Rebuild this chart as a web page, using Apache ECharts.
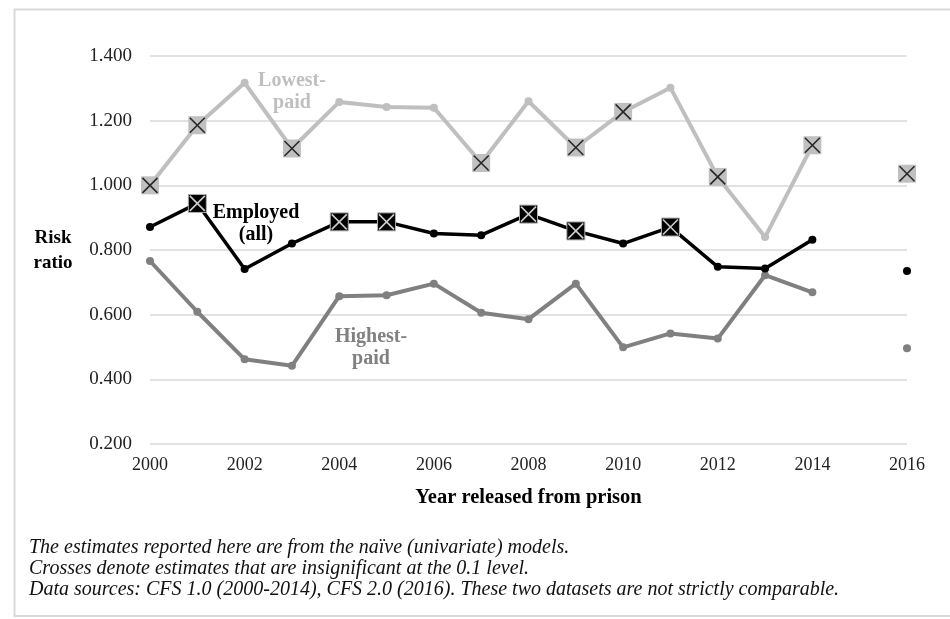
<!DOCTYPE html>
<html>
<head>
<meta charset="utf-8">
<script src="https://cdn.jsdelivr.net/npm/echarts@6/dist/echarts.min.js"></script>
<style>
  html, body { margin: 0; padding: 0; background: #fff; }
  #chart { width: 950px; height: 619px; }
</style>
</head>
<body>
<div id="chart"></div>
<script>
// release years (2015 missing: two different datasets)
const years = [2000, 2001, 2002, 2003, 2004, 2005, 2006, 2007, 2008, 2009, 2010, 2011, 2012, 2013, 2014, 2016];
const lowestPaid = [1.000, 1.186, 1.317, 1.114, 1.258, 1.242, 1.240, 1.069, 1.260, 1.117, 1.227, 1.302, 1.026, 0.840, 1.124, 1.036];
const employedAll = [0.871, 0.944, 0.741, 0.820, 0.887, 0.887, 0.851, 0.846, 0.911, 0.859, 0.820, 0.871, 0.748, 0.743, 0.832, 0.735];
const highestPaid = [0.766, 0.609, 0.462, 0.442, 0.657, 0.660, 0.696, 0.606, 0.586, 0.696, 0.499, 0.542, 0.526, 0.722, 0.669, 0.496];
// years where the estimate is insignificant (drawn with a crossed square)
const lowestCross = [2000, 2001, 2003, 2007, 2009, 2010, 2012, 2014, 2016];
const employedCross = [2001, 2004, 2005, 2008, 2009, 2011];
const highestCross = [];
const yTicks = [0.2, 0.4, 0.6, 0.8, 1.0, 1.2, 1.4];
const notes = [
  'The estimates reported here are from the naïve (univariate) models.',
  'Crosses denote estimates that are insignificant at the 0.1 level.',
  'Data sources: CFS 1.0 (2000-2014), CFS 2.0 (2016). These two datasets are not strictly comparable.'
];

const FONT = '"Liberation Serif", "Times New Roman", serif';
const X_PATH = 'path://M0 0L10 10M10 0L0 10';

function lineData(vals, crosses, sqColor, sqBorder) {
  const data = [];
  years.forEach((y, i) => {
    if (i > 0 && y - years[i - 1] > 1) data.push([y - 1, '-']);
    const item = { value: [y, vals[i]] };
    if (crosses.indexOf(y) >= 0) {
      item.symbol = 'rect';
      item.symbolSize = 18;
      item.itemStyle = { color: sqColor, borderColor: sqBorder, borderWidth: sqBorder ? 1 : 0 };
    }
    data.push(item);
  });
  return data;
}

function crossData(vals, crosses) {
  return crosses.map(y => [y, vals[years.indexOf(y)]]);
}

function lineSeries(name, vals, crosses, color, width, sqColor, sqBorder, z) {
  return {
    name: name,
    type: 'line',
    z: z,
    data: lineData(vals, crosses, sqColor, sqBorder),
    symbol: 'circle',
    symbolSize: 8,
    showSymbol: true,
    connectNulls: false,
    lineStyle: { color: color, width: width },
    itemStyle: { color: color }
  };
}

function crossSeries(vals, crosses, color) {
  return {
    type: 'scatter',
    z: 10,
    silent: true,
    data: crossData(vals, crosses),
    symbol: X_PATH,
    symbolSize: 15,
    itemStyle: { color: 'rgba(0,0,0,0)', borderColor: color, borderWidth: 1.6 }
  };
}

const chart = echarts.init(document.getElementById('chart'), null, { renderer: 'canvas' });

const option = {
  animation: false,
  backgroundColor: '#fff',
  grid: { left: 150, right: 43, top: 56, bottom: 175 },
  xAxis: {
    type: 'value',
    min: 2000,
    max: 2016,
    interval: 2,
    axisLine: { show: false },
    axisTick: { show: false },
    splitLine: { show: false },
    axisLabel: { color: '#222', fontFamily: FONT, fontSize: 18, margin: 12, formatter: v => String(v) },
    name: 'Year released from prison',
    nameLocation: 'middle',
    nameGap: 43,
    nameTextStyle: { color: '#000', fontFamily: FONT, fontSize: 20.5, fontWeight: 'bold' }
  },
  yAxis: {
    type: 'value',
    min: yTicks[0],
    max: yTicks[yTicks.length - 1],
    interval: 0.2,
    axisLine: { show: false },
    axisTick: { show: false },
    splitLine: { show: true, lineStyle: { color: '#d9d9d9', width: 1.5 } },
    axisLabel: { color: '#222', fontFamily: FONT, fontSize: 19, margin: 18, formatter: v => v.toFixed(3) }
  },
  series: [
    lineSeries('Lowest-paid', lowestPaid, lowestCross, '#bfbfbf', 4, '#c0c0c0', null, 2),
    lineSeries('Highest-paid', highestPaid, highestCross, '#808080', 4, '#808080', null, 3),
    lineSeries('Employed (all)', employedAll, employedCross, '#000000', 3.5, '#000000', '#b0b0b0', 4),
    crossSeries(lowestPaid, lowestCross, '#000000'),
    crossSeries(employedAll, employedCross, '#ffffff')
  ],
  graphic: [
    {
      type: 'rect', silent: true, z: -1,
      shape: { x: 14.5, y: 9.5, width: 945, height: 606.5 },
      style: { fill: 'none', stroke: '#d9d9d9', lineWidth: 2 }
    },
    {
      type: 'text', x: 53, y: 226,
      style: { text: 'Risk\nratio', fill: '#000', font: 'bold 19px ' + FONT, lineHeight: 25, align: 'center' }
    },
    {
      type: 'text', x: 292, y: 70,
      style: { text: 'Lowest-\npaid', fill: '#bfbfbf', font: 'bold 20px ' + FONT, lineHeight: 22, align: 'center' }
    },
    {
      type: 'text', x: 256, y: 202,
      style: { text: 'Employed\n(all)', fill: '#000', font: 'bold 20px ' + FONT, lineHeight: 22, align: 'center' }
    },
    {
      type: 'text', x: 371, y: 326,
      style: { text: 'Highest-\npaid', fill: '#808080', font: 'bold 20px ' + FONT, lineHeight: 22, align: 'center' }
    },
    {
      type: 'text', x: 29, y: 537,
      style: { text: notes.join('\n'), fill: '#111', font: 'italic 20px ' + FONT, lineHeight: 21 }
    }
  ]
};

chart.setOption(option);
</script>
</body>
</html>
